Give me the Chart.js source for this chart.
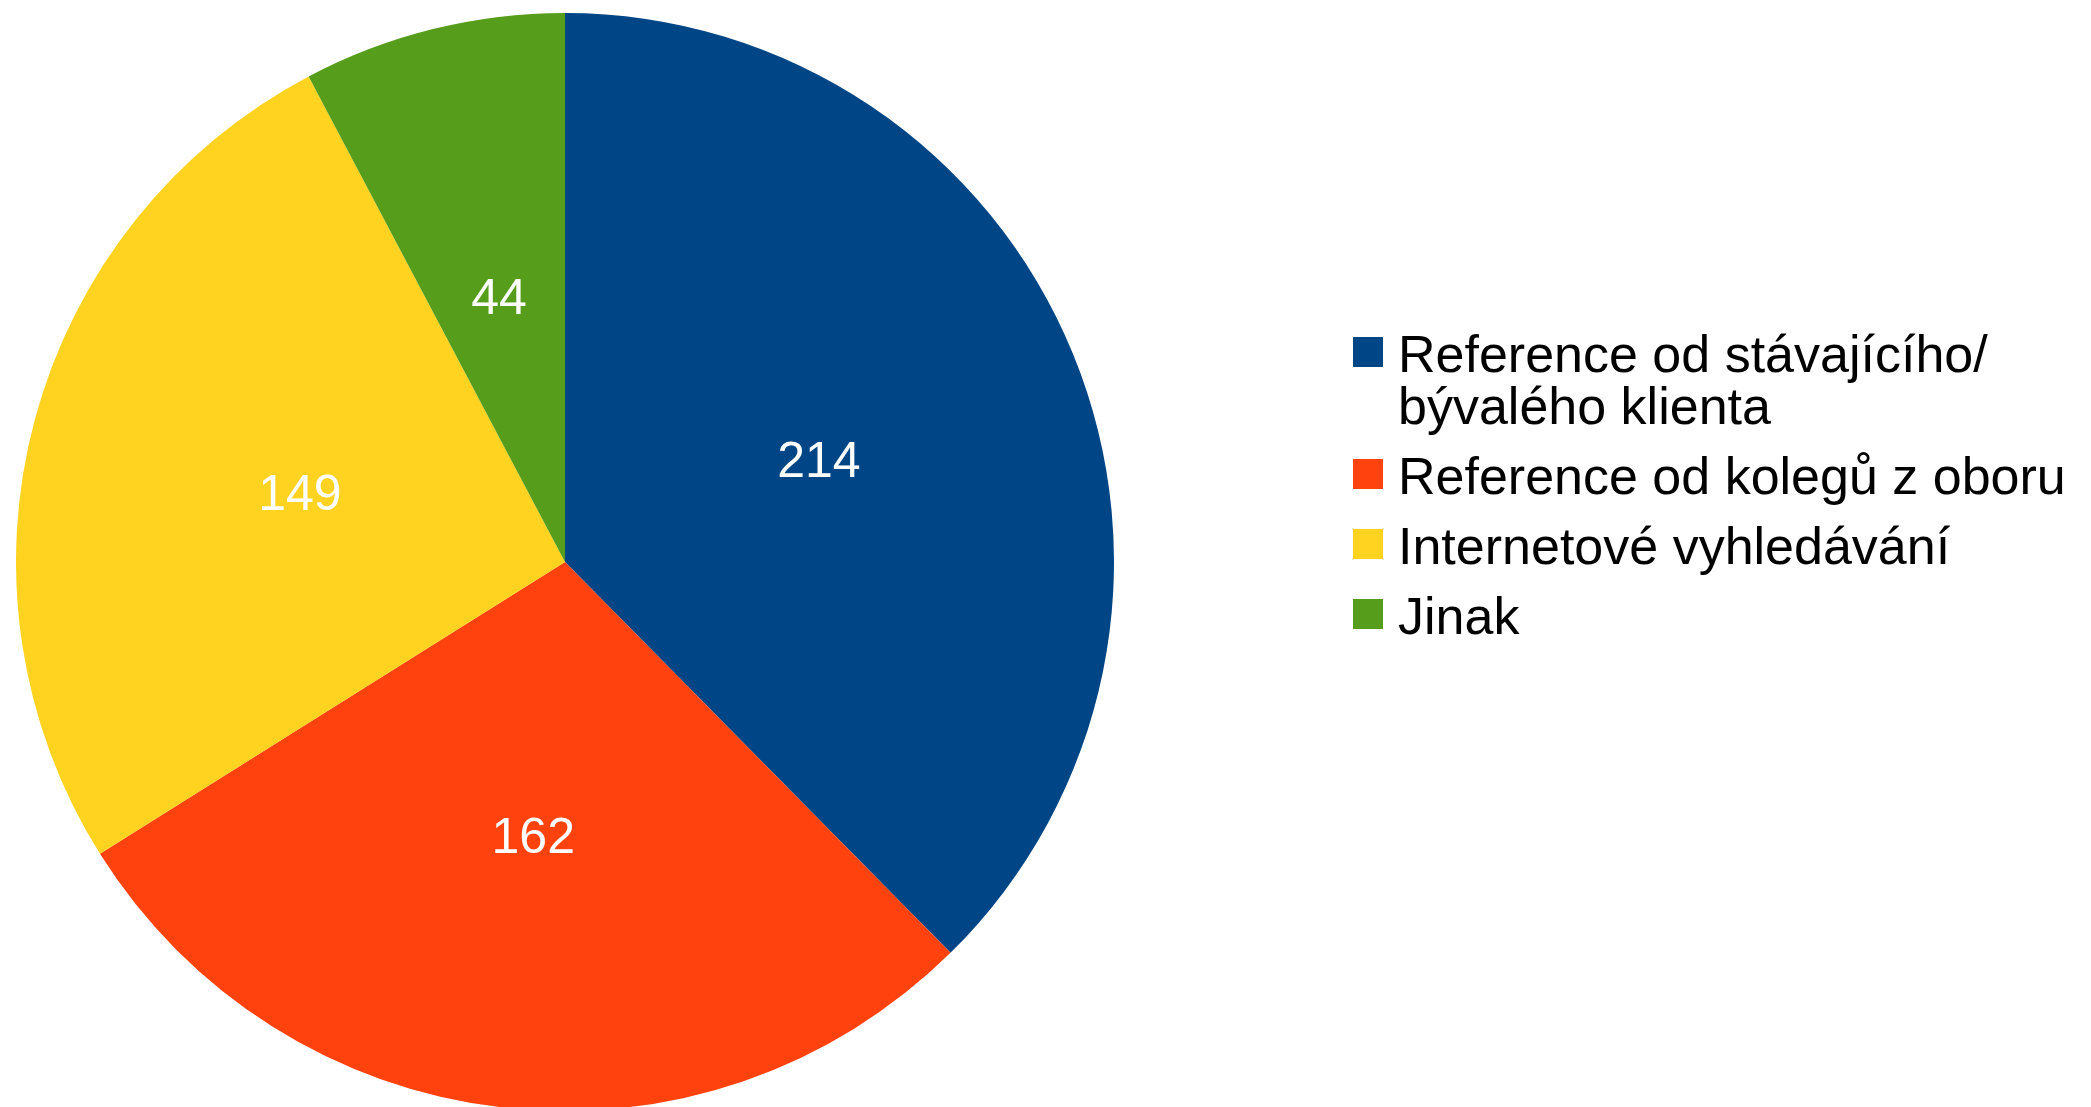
<!DOCTYPE html>
<html>
<head>
<meta charset="utf-8">
<script src="https://cdn.jsdelivr.net/npm/chart.js@4/dist/chart.umd.min.js"></script>
<style>
  html, body { margin: 0; padding: 0; background: #fff; overflow: hidden; }
  body { width: 2091px; height: 1107px; position: relative; font-family: "Liberation Sans", Arial, sans-serif; }
  #pieBox { position: absolute; left: 16px; top: 13px; width: 1098px; height: 1098px; }
  #legend { position: absolute; left: 1353px; top: 328px; margin: 0; padding: 0; list-style: none; }
  #legend li { display: flex; align-items: flex-start; font-size: 52px; line-height: 52px; color: #000; margin-bottom: 18px; }
  #legend .sw { width: 30px; height: 30px; flex: none; margin-top: 9px; margin-right: 15px; }
</style>
</head>
<body>
<div id="pieBox"><canvas id="pie"></canvas></div>
<ul id="legend"></ul>
<script>
const categories = [
  ["Reference od stávajícího/", "bývalého klienta"],
  ["Reference od kolegů z oboru"],
  ["Internetové vyhledávání"],
  ["Jinak"]
];
const counts = [214, 162, 149, 44];
const colors = ["#004586", "#ff420e", "#ffd320", "#579d1c"];

// white value labels in the middle of each slice
const sliceLabels = {
  id: "sliceLabels",
  afterDatasetsDraw(chart) {
    const ctx = chart.ctx;
    const meta = chart.getDatasetMeta(0);
    ctx.save();
    ctx.fillStyle = "#ffffff";
    ctx.font = '50px "Liberation Sans", Arial, sans-serif';
    ctx.textAlign = "center";
    ctx.textBaseline = "middle";
    meta.data.forEach((arc, i) => {
      const p = arc.tooltipPosition();
      ctx.fillText(String(chart.data.datasets[0].data[i]), p.x, p.y + 5);
    });
    ctx.restore();
  }
};

new Chart(document.getElementById("pie").getContext("2d"), {
  type: "pie",
  data: {
    labels: categories.map(c => c.join(" ")),
    datasets: [{
      data: counts,
      backgroundColor: colors,
      borderWidth: 0,
      hoverOffset: 0,
      offset: 0
    }]
  },
  options: {
    responsive: true,
    maintainAspectRatio: false,
    animation: false,
    devicePixelRatio: 1,
    rotation: 0,
    layout: { padding: 0 },
    plugins: {
      legend: { display: false },
      tooltip: { enabled: false }
    }
  },
  plugins: [sliceLabels]
});

// Legend
const legendEl = document.getElementById("legend");
categories.forEach((lines, i) => {
  const li = document.createElement("li");
  const sw = document.createElement("span");
  sw.className = "sw";
  sw.style.background = colors[i];
  const txt = document.createElement("span");
  txt.innerHTML = lines.join("<br>");
  li.appendChild(sw);
  li.appendChild(txt);
  legendEl.appendChild(li);
});
</script>
</body>
</html>
